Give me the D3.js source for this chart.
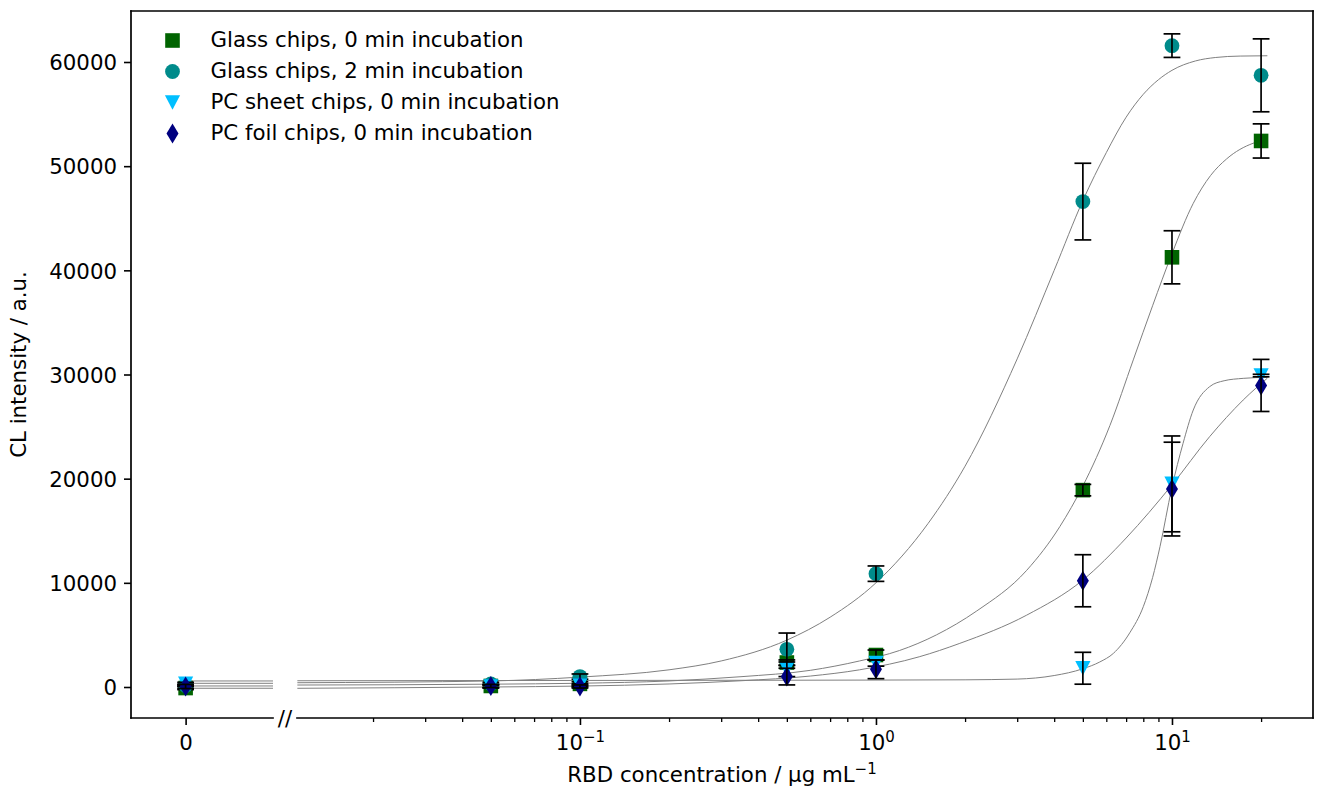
<!DOCTYPE html>
<html lang="en">
<head>
<meta charset="UTF-8">
<script src="https://cdn.jsdelivr.net/npm/d3@7"></script>
<title>CL intensity vs RBD concentration</title>
<style>
    body { margin: 0; background: #fff; }
    svg text { font-family: "DejaVu Sans", sans-serif; fill: #000; }
</style>
</head>
<body>
<svg id="chart" width="1323" height="790"></svg>
<script>
/*------------------------- data -------------------------*/
// concentrations (ug/mL); 0 sits on its own little axis left of the break
const conc = [0, 0.05, 0.1, 0.5, 1, 5, 10, 20];

const glass0 = [-100, 100, 300, 2350, 3070, 18900, 41250, 52420];
const glass0Err = [150, 150, 200, 250, 480, 550, 2550, 1640];
const glass2 = [150, 300, 1000, 3620, 10880, 46600, 61570, 58720];
const glass2Err = [100, 150, 250, 1560, 740, 3680, 1130, 3500];
const pcSheet = [300, 50, 150, 1700, 2300, 1800, 19500, 29900];
const pcSheetErr = [150, 150, 150, 700, 300, 1530, 4600, 120];
const pcFoil = [50, 100, 50, 1000, 1700, 10200, 19000, 28950];
const pcFoilErr = [200, 150, 150, 800, 900, 2500, 4500, 2500];

// fitted curves (first entry = value on the zero axis)
const glass0FitConc = [0, 0.0111, 0.05, 0.1, 0.2, 0.35, 0.6, 0.88, 1.2, 1.6, 2.19, 3.23, 4.18, 5, 6.17, 7.4, 8.6, 10, 11.8, 13.5, 15.3, 18.8, 21];
const glass0Fit = [100, 190, 270, 360, 580, 990, 1600, 2500, 3500, 5000, 7300, 11200, 15400, 19300, 25100, 31400, 36600, 41600, 46430, 49100, 50700, 52200, 52550];
const glass2FitConc = [0, 0.0111, 0.05, 0.1, 0.2, 0.3, 0.5, 0.7, 1, 1.5, 2, 3, 4, 5, 6, 7, 8, 9, 10, 12, 14, 17, 21];
const glass2Fit = [355, 410, 580, 950, 1650, 2500, 4500, 6700, 10000, 15700, 21200, 31500, 40000, 46700, 51300, 54700, 56900, 58300, 59200, 60100, 60430, 60570, 60600];
const pcSheetFitConc = [0, 0.0111, 0.1, 0.5, 1, 2, 3, 4, 5, 5.7, 6.34, 7.2, 8, 8.6, 9.11, 9.98, 10.9, 11.8, 13.4, 15, 17.4, 21];
const pcSheetFit = [580, 600, 630, 650, 665, 690, 760, 1100, 1750, 2400, 3230, 5200, 7710, 10500, 13470, 19070, 23390, 26590, 28830, 29400, 29630, 29730];
const pcFoilFitConc = [0, 0.0111, 0.05, 0.1, 0.2, 0.35, 0.6, 0.88, 1.4, 1.92, 3.23, 5, 7, 10, 13.4, 17.4, 21];
const pcFoilFit = [-120, -125, 0, 90, 290, 600, 1050, 1650, 2900, 4190, 6900, 10270, 14300, 19400, 24030, 27550, 29650];

const seriesNames = [
    "Glass chips, 0 min incubation",
    "Glass chips, 2 min incubation",
    "PC sheet chips, 0 min incubation",
    "PC foil chips, 0 min incubation"
];
const seriesColors = ["#006400", "#008b8b", "#00bfff", "#000080"];
const seriesShapes = ["square", "circle", "triangle", "diamond"];

const yTicks = [0, 10000, 20000, 30000, 40000, 50000, 60000];
const xMajorTicks = [0.1, 1, 10];
const xMajorExp = ["\u22121", "0", "1"];
const xMinorTicks = [0.02, 0.03, 0.04, 0.05, 0.06, 0.07, 0.08, 0.09,
    0.2, 0.3, 0.4, 0.5, 0.6, 0.7, 0.8, 0.9,
    2, 3, 4, 5, 6, 7, 8, 9, 20];

const series = [
    { values: glass0, err: glass0Err, fitX: glass0FitConc, fitY: glass0Fit },
    { values: glass2, err: glass2Err, fitX: glass2FitConc, fitY: glass2Fit },
    { values: pcSheet, err: pcSheetErr, fitX: pcSheetFitConc, fitY: pcSheetFit },
    { values: pcFoil, err: pcFoilErr, fitX: pcFoilFitConc, fitY: pcFoilFit }
];

/*------------------------ layout ------------------------*/
const plotLeft = 131, plotRight = 1313, plotTop = 11, plotBottom = 718;
const zeroEnd = 273, logStart = 297;   // the axis break
const fontSize = 21.3, supSize = 15;

const svg = d3.select("#chart");

const y = d3.scaleLinear().domain([-2976, 64896]).range([plotBottom, plotTop]);
const xZero = d3.scaleLinear().domain([-0.5, 0.8]).range([plotLeft, zeroEnd]);
const xLog = d3.scaleLog().domain([0.01107, 29.95]).range([logStart, plotRight]);
const xPos = c => c === 0 ? xZero(0) : xLog(c);

/*---------------------- marker shapes -------------------*/
function markerPath(shape) {
    if (shape === "square") return "M-7.3,-7.3H7.3V7.3H-7.3Z";
    if (shape === "circle") return d3.symbol(d3.symbolCircle, 172)();
    if (shape === "triangle") return "M-7.6,-7.3H7.6L0,7.3Z";
    return "M0,-10L6,0L0,10L-6,0Z";
}

/*------------------------ fit lines ---------------------*/
const fitLine = d3.line()
    .x(d => xLog(d[0]))
    .y(d => y(d[1]))
    .curve(d3.curveMonotoneX);

const fits = svg.append("g")
    .attr("fill", "none")
    .attr("stroke", "#808080")
    .attr("stroke-width", 1);

series.forEach(s => {
    // flat piece on the zero axis
    fits.append("line")
        .attr("x1", xZero(0)).attr("x2", zeroEnd)
        .attr("y1", y(s.fitY[0])).attr("y2", y(s.fitY[0]));
    const pts = s.fitX.map((c, i) => [c, s.fitY[i]]).filter(d => d[0] > 0);
    fits.append("path").attr("d", fitLine(pts));
});

/*----------------- markers + error bars -----------------*/
const capHalf = 8.4;
series.forEach((s, k) => {
    svg.append("g").selectAll("path")
        .data(conc.map((c, i) => [c, s.values[i]]))
        .join("path")
        .attr("d", markerPath(seriesShapes[k]))
        .attr("transform", d => `translate(${xPos(d[0])},${y(d[1])})`)
        .attr("fill", seriesColors[k]);

    const g = svg.append("g").attr("stroke", "#000").attr("stroke-width", 1.7);
    conc.forEach((c, i) => {
        const x = xPos(c);
        const y0 = y(s.values[i] - s.err[i]), y1 = y(s.values[i] + s.err[i]);
        g.append("line").attr("x1", x).attr("x2", x).attr("y1", y0).attr("y2", y1);
        g.append("line").attr("x1", x - capHalf).attr("x2", x + capHalf).attr("y1", y0).attr("y2", y0);
        g.append("line").attr("x1", x - capHalf).attr("x2", x + capHalf).attr("y1", y1).attr("y2", y1);
    });
});

/*-------------------------- axes ------------------------*/
const yAxisG = svg.append("g")
    .attr("transform", `translate(${plotLeft},0)`)
    .call(d3.axisLeft(y).tickValues(yTicks).tickSize(7).tickPadding(7).tickFormat(d3.format("d")));
yAxisG.select(".domain").remove();
yAxisG.attr("font-size", fontSize);
yAxisG.selectAll("line").attr("stroke-width", 1.6);
yAxisG.selectAll("text").attr("dy", "0.36em");

// zero part of the x axis
const zeroAxisG = svg.append("g")
    .attr("transform", `translate(0,${plotBottom})`)
    .call(d3.axisBottom(xZero).tickValues([0]).tickSize(7).tickFormat(() => "0"));
zeroAxisG.select(".domain").remove();
zeroAxisG.attr("font-size", fontSize);
zeroAxisG.selectAll("line").attr("stroke-width", 1.6);
zeroAxisG.selectAll("text").attr("y", 32).attr("dy", null);

// log part
const logAxisG = svg.append("g")
    .attr("transform", `translate(0,${plotBottom})`)
    .call(d3.axisBottom(xLog).tickValues(xMajorTicks).tickSize(7).tickFormat(() => ""));
logAxisG.select(".domain").remove();
logAxisG.attr("font-size", fontSize);
logAxisG.selectAll("line").attr("stroke-width", 1.6);
logAxisG.selectAll("text")
    .attr("y", 32).attr("dy", null)
    .each(function (d, i) {
        const t = d3.select(this);
        t.append("tspan").text("10");
        t.append("tspan").attr("font-size", supSize).attr("dy", -8).text(xMajorExp[i]);
    });

const minorG = svg.append("g")
    .attr("transform", `translate(0,${plotBottom})`)
    .call(d3.axisBottom(xLog).tickValues(xMinorTicks).tickSize(4).tickFormat(() => ""));
minorG.select(".domain").remove();
minorG.selectAll("line").attr("stroke-width", 1.3);

/*------------------------- spines -----------------------*/
const spines = svg.append("g").attr("stroke", "#000").attr("stroke-width", 1.7).attr("stroke-linecap", "square");
spines.append("line").attr("x1", plotLeft).attr("x2", plotRight).attr("y1", plotTop).attr("y2", plotTop);
spines.append("line").attr("x1", plotLeft).attr("x2", plotLeft).attr("y1", plotTop).attr("y2", plotBottom);
spines.append("line").attr("x1", plotRight).attr("x2", plotRight).attr("y1", plotTop).attr("y2", plotBottom);
spines.append("line").attr("x1", plotLeft).attr("x2", zeroEnd).attr("y1", plotBottom).attr("y2", plotBottom);
spines.append("line").attr("x1", logStart).attr("x2", plotRight).attr("y1", plotBottom).attr("y2", plotBottom);

// break mark
svg.append("text")
    .attr("x", (zeroEnd + logStart) / 2)
    .attr("y", plotBottom + 8)
    .attr("text-anchor", "middle")
    .attr("font-size", fontSize)
    .text("//");

/*------------------------- titles -----------------------*/
const xTitle = svg.append("text")
    .attr("x", (plotLeft + plotRight) / 2)
    .attr("y", 782)
    .attr("text-anchor", "middle")
    .attr("font-size", fontSize);
xTitle.append("tspan").text("RBD concentration / \u03bcg mL");
xTitle.append("tspan").attr("font-size", supSize).attr("dy", -8).text("\u22121");

svg.append("text")
    .attr("transform", `translate(26,${(plotTop + plotBottom) / 2}) rotate(-90)`)
    .attr("text-anchor", "middle")
    .attr("font-size", fontSize)
    .text("CL intensity / a.u.");

/*------------------------- legend -----------------------*/
const legend = svg.append("g");
seriesNames.forEach((name, k) => {
    const cy = 40.5 + k * 31;
    legend.append("path")
        .attr("d", markerPath(seriesShapes[k]))
        .attr("transform", `translate(172.5,${cy})`)
        .attr("fill", seriesColors[k]);
    legend.append("text")
        .attr("x", 210.5)
        .attr("y", cy + 6.5)
        .attr("font-size", fontSize)
        .text(name);
});
</script>
</body>
</html>
